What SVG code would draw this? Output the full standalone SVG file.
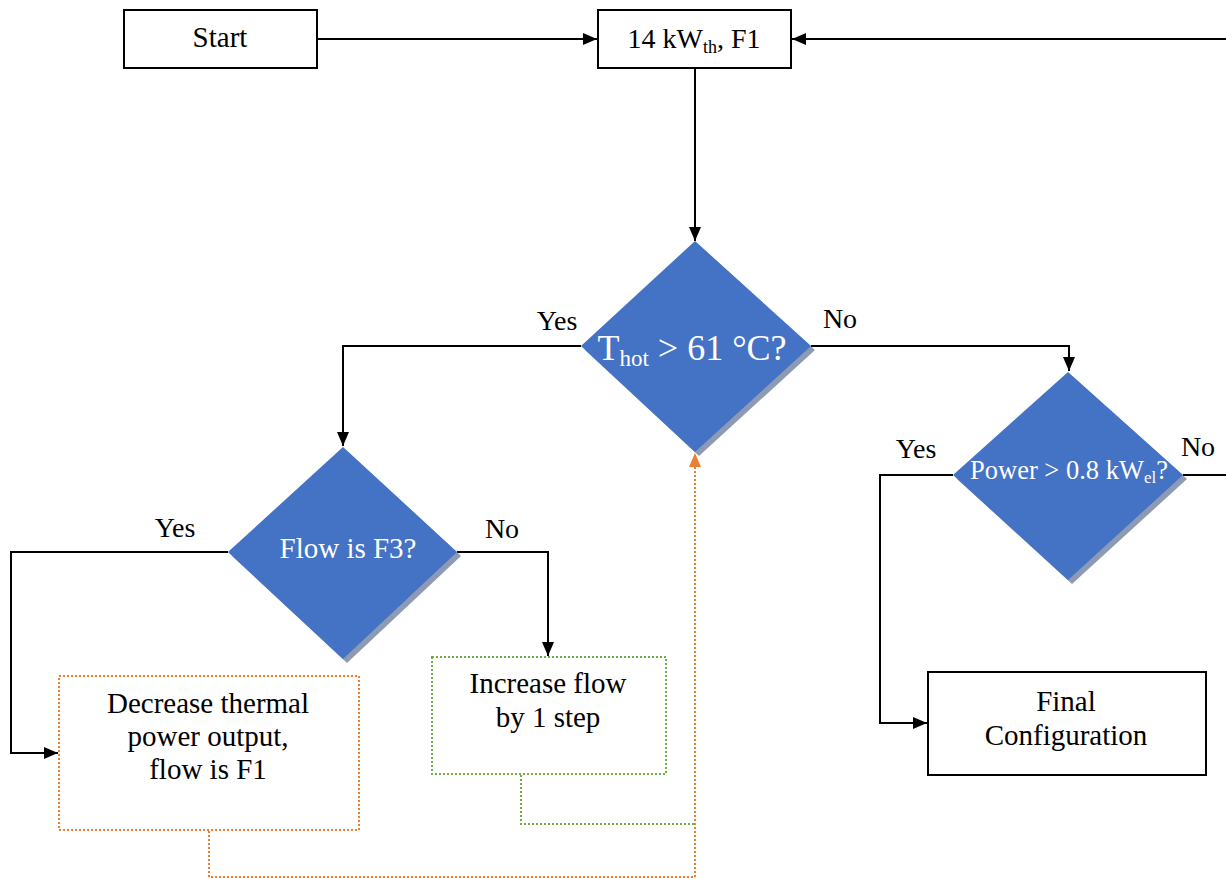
<svg xmlns="http://www.w3.org/2000/svg" width="1226" height="879" viewBox="0 0 1226 879">
<style>
text{font-family:"Liberation Serif","Times New Roman",serif;fill:#000}
.box{fill:#fff;stroke:#000;stroke-width:2}
.dia{fill:#4472C4}
.shd{fill:#8C9BB3}
.wt{fill:#fff}
.ln{fill:none;stroke:#000;stroke-width:2}
.or{fill:none;stroke:#ED7D31;stroke-width:2;stroke-dasharray:2 2}
.gr{fill:none;stroke:#70AD47;stroke-width:2;stroke-dasharray:2 2}
</style>
<defs>
<marker id="ah" markerWidth="14" markerHeight="12" refX="14" refY="6" orient="auto" markerUnits="userSpaceOnUse"><path d="M0,0 L14,6 L0,12 Z" fill="#000"/></marker>
<marker id="aho" markerWidth="14" markerHeight="12" refX="14" refY="6" orient="auto" markerUnits="userSpaceOnUse"><path d="M0,0 L14,6 L0,12 Z" fill="#ED7D31"/></marker>
</defs>
<g id="connectors">
<path class="ln" d="M317,39 H597" marker-end="url(#ah)"/>
<path class="ln" d="M1226,39 H792" marker-end="url(#ah)"/>
<path class="ln" d="M695,68 V241" marker-end="url(#ah)"/>
<path class="ln" d="M581,346 H343 V446" marker-end="url(#ah)"/>
<path class="ln" d="M811,346 H1069 V371" marker-end="url(#ah)"/>
<path class="ln" d="M1183,475 H1226"/>
<path class="ln" d="M953,475 H880 V723 H927" marker-end="url(#ah)"/>
<path class="ln" d="M228,552 H11 V753 H58" marker-end="url(#ah)"/>
<path class="ln" d="M457,552 H548 V656" marker-end="url(#ah)"/>
<path class="gr" d="M521,775 V824 H695"/>
<path class="or" d="M209,831 V877 H695 V453" marker-end="url(#aho)"/>
</g>
<g id="start">
<rect class="box" x="124" y="10" width="193" height="58"/>
<text x="220" y="47" font-size="29" text-anchor="middle">Start</text>
</g>
<g id="init">
<rect class="box" x="598" y="10" width="193" height="58"/>
<text x="694" y="48" font-size="28" text-anchor="middle">14 kW<tspan font-size="18" dy="5">th</tspan><tspan dy="-5">, F1</tspan></text>
</g>
<g id="thot">
<polygon class="shd" points="699,245 815,350 699,456 585,350"/>
<polygon class="dia" points="695,241 811,346 695,452 581,346"/>
<text class="wt" x="692" y="360" font-size="36" text-anchor="middle">T<tspan font-size="23" dy="6">hot</tspan><tspan dy="-6"> &gt; 61 °C?</tspan></text>
<text x="557" y="330" font-size="28" text-anchor="middle">Yes</text>
<text x="840" y="328" font-size="28" text-anchor="middle">No</text>
</g>
<g id="power">
<polygon class="shd" points="1072,376 1187,479 1072,584 957,479"/>
<polygon class="dia" points="1068,372 1183,475 1068,580 953,475"/>
<text class="wt" x="1069" y="479" font-size="26.5" text-anchor="middle">Power &gt; 0.8 kW<tspan font-size="17" dy="4">el</tspan><tspan dy="-4">?</tspan></text>
<text x="916" y="458" font-size="28" text-anchor="middle">Yes</text>
<text x="1198" y="456" font-size="28" text-anchor="middle">No</text>
</g>
<g id="flow">
<polygon class="shd" points="347,451 461,556 347,663 232,556"/>
<polygon class="dia" points="343,447 457,552 343,659 228,552"/>
<text class="wt" x="348" y="558" font-size="29" text-anchor="middle">Flow is F3?</text>
<text x="175" y="537" font-size="28" text-anchor="middle">Yes</text>
<text x="502" y="538" font-size="28" text-anchor="middle">No</text>
</g>
<g id="decrease">
<rect class="or" x="59" y="676" width="300" height="154" fill="#fff"/>
<text font-size="29" text-anchor="middle"><tspan x="208" y="713">Decrease thermal</tspan><tspan x="208" y="746">power output,</tspan><tspan x="208" y="779">flow is F1</tspan></text>
</g>
<g id="increase">
<rect class="gr" x="432" y="657" width="234" height="117" fill="#fff"/>
<text font-size="29" text-anchor="middle"><tspan x="548" y="693">Increase flow</tspan><tspan x="548" y="727">by 1 step</tspan></text>
</g>
<g id="final">
<rect class="box" x="928" y="672" width="278" height="103"/>
<text font-size="29" text-anchor="middle"><tspan x="1066" y="711">Final</tspan><tspan x="1066" y="745">Configuration</tspan></text>
</g>
</svg>
